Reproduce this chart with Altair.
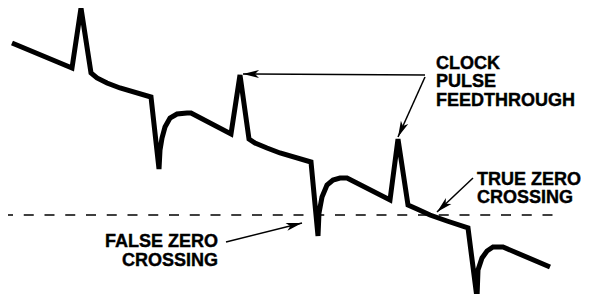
import math
import altair as alt
import pandas as pd

# Waveform (time units ~ horizontal position, value relative to the zero line)
wave_t = [12, 72, 81, 91, 97, 107, 120, 151, 159, 160, 162, 165, 170, 177, 187, 191,
          231, 240, 249, 255, 267, 280, 311, 318, 319, 322, 327, 333, 340, 347,
          390, 398, 408, 417, 430, 447, 468, 477, 478, 482, 487, 493, 503, 550]
wave_v = [172, 147, 207, 142, 137, 132, 127, 118, 46, 65, 77, 88, 97, 101, 102, 102,
          81, 140, 76, 72, 67, 62, 53, -21, 2, 18, 30, 35, 37, 37,
          15, 76, 10, 6, 0, -6, -13, -83, -55, -43, -36, -32, -32, -52]

# Zero line
zero_start, zero_end, zero_level = 8, 555, 0

# Arrows: tail -> tip
arrow_t1 = [425, 425, 473, 226]
arrow_v1 = [140, 138, 37, -27]
arrow_t2 = [243, 398, 437, 302]
arrow_v2 = [141, 78, 3, -8]

# Labels
label_text = ["CLOCK", "PULSE", "FEEDTHROUGH", "TRUE ZERO", "CROSSING", "FALSE ZERO", "CROSSING"]
label_t = [436, 436, 436, 477, 477, 218, 218]
label_v = [146, 128, 109, 30, 12, -32, -51]
label_align = ["left", "left", "left", "left", "left", "right", "right"]

X_DOMAIN = [8, 581]
Y_DOMAIN = [-79, 207]
W, H = 573, 286

xs = alt.Scale(domain=X_DOMAIN, nice=False, zero=False)
ys = alt.Scale(domain=Y_DOMAIN, nice=False, zero=False)

wave = pd.DataFrame({"t": wave_t, "v": wave_v, "o": list(range(len(wave_t)))})

px_per_t = W / (X_DOMAIN[1] - X_DOMAIN[0])
px_per_v = H / (Y_DOMAIN[1] - Y_DOMAIN[0])
angles = []
for a, b, c, d in zip(arrow_t1, arrow_v1, arrow_t2, arrow_v2):
    dx = (c - a) * px_per_t
    dy = -(d - b) * px_per_v
    angles.append(math.degrees(math.atan2(dy, dx)) % 360)
arrows = pd.DataFrame({"t1": arrow_t1, "v1": arrow_v1, "t2": arrow_t2, "v2": arrow_v2, "ang": angles})

zero = pd.DataFrame({"t1": [zero_start], "t2": [zero_end], "v": [zero_level]})
labels = pd.DataFrame({"text": label_text, "t": label_t, "v": label_v, "align": label_align})

line = alt.Chart(wave).mark_line(
    color="black", strokeWidth=5, strokeJoin="miter", strokeMiterLimit=2, strokeCap="butt"
).encode(
    x=alt.X("t:Q", scale=xs, axis=None),
    y=alt.Y("v:Q", scale=ys, axis=None),
    order="o:Q",
)

zline = alt.Chart(zero).mark_rule(
    color="black", strokeWidth=1.3, strokeDash=[10, 10.75], strokeDashOffset=5
).encode(
    x=alt.X("t1:Q", scale=xs, axis=None),
    x2="t2:Q",
    y=alt.Y("v:Q", scale=ys, axis=None),
)

shafts = alt.Chart(arrows).mark_rule(color="black", strokeWidth=1.5).encode(
    x=alt.X("t1:Q", scale=xs, axis=None),
    y=alt.Y("v1:Q", scale=ys, axis=None),
    x2="t2:Q",
    y2="v2:Q",
)

heads = alt.Chart(arrows).mark_point(
    shape="M0,0L-1,-0.25L-0.75,0L-1,0.25Z",
    filled=True, color="black", size=1024, opacity=1, strokeWidth=0,
).encode(
    x=alt.X("t2:Q", scale=xs, axis=None),
    y=alt.Y("v2:Q", scale=ys, axis=None),
    angle=alt.Angle("ang:Q", scale=None),
)

def text_layer(align):
    return alt.Chart(labels[labels["align"] == align]).mark_text(
        align=align, baseline="alphabetic", font="Liberation Sans",
        fontWeight="bold", fontSize=18, color="black",
        stroke="black", strokeWidth=0.4,
    ).encode(
        x=alt.X("t:Q", scale=xs, axis=None),
        y=alt.Y("v:Q", scale=ys, axis=None),
        text="text:N",
    )

chart = alt.layer(zline, line, shafts, heads, text_layer("left"), text_layer("right")).properties(
    width=W, height=H, padding=0, background="white",
    autosize=alt.AutoSizeParams(type="none"),
).configure_view(stroke=None)

chart.save("out.html", embed_options={"renderer": "svg", "actions": False})
